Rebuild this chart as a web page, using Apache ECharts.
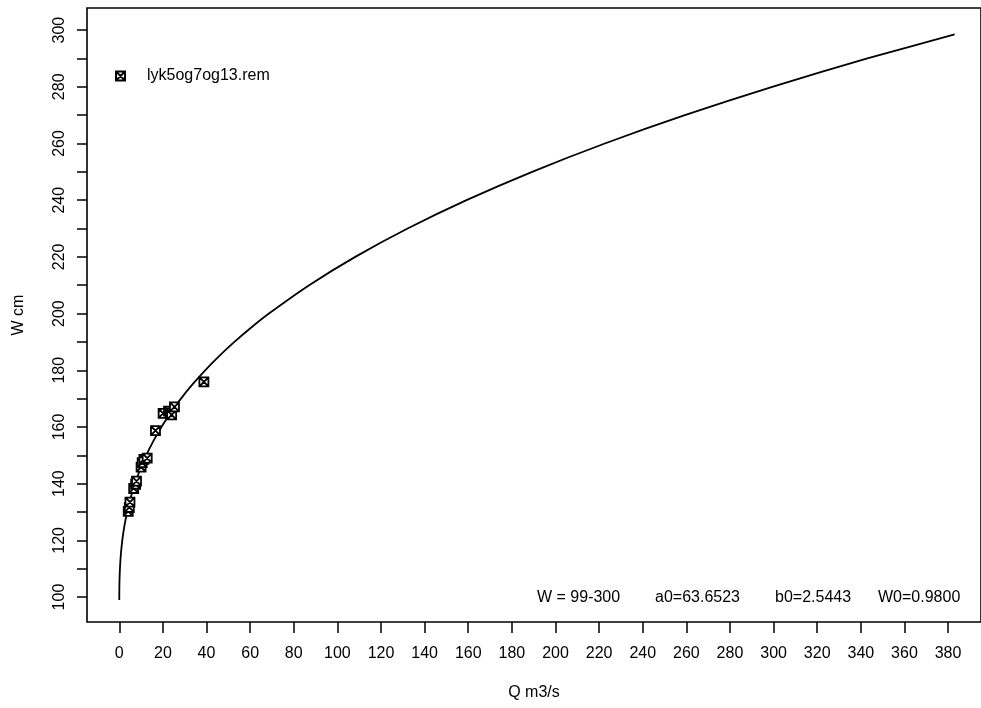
<!DOCTYPE html>
<html>
<head>
<meta charset="utf-8">
<script src="https://cdn.jsdelivr.net/npm/echarts@6/dist/echarts.min.js"></script>
<style>
html,body{margin:0;padding:0;background:#fff;}
#chart{width:981px;height:708px;}
</style>
</head>
<body>
<div id="chart"></div>
<script>
// Observed gauging points (Q m3/s, W cm)
const obsQ = [4.1, 4.6, 4.9, 6.6, 7.5, 7.9, 10.0, 10.5, 11.3, 12.8, 16.6, 20.1, 22.6, 23.4, 24.0, 25.3, 38.8];
const obsW = [130.2, 131.6, 133.5, 138.3, 139.8, 140.9, 145.8, 147.4, 148.6, 149.0, 158.7, 164.8, 165.6, 165.0, 164.3, 167.1, 175.9];

// Rating curve (Q m3/s, W cm)
const curveQ = [0, 0.003, 0.018, 0.075, 0.3, 0.72, 1.38, 2.33, 3.6, 5.2, 7.18, 9.55, 12.36, 15.61, 19.33, 23.55, 28.28, 33.56, 39.37, 45.78, 52.78, 60.38, 68.61, 87.05, 108.2, 132.2, 159.2, 189.3, 222.6, 259.3, 299.4, 343.0, 383.0];
const curveW = [99, 100, 102, 105, 110, 115, 120, 125, 130, 135, 140, 145, 150, 155, 160, 165, 170, 175, 180, 185, 190, 195, 200, 210, 220, 230, 240, 250, 260, 270, 280, 290, 298.5];

// Tick values and labels
const xTicks = [0, 20, 40, 60, 80, 100, 120, 140, 160, 180, 200, 220, 240, 260, 280, 300, 320, 340, 360, 380];
const yTicks = [100, 110, 120, 130, 140, 150, 160, 170, 180, 190, 200, 210, 220, 230, 240, 250, 260, 270, 280, 290, 300];
const yLabels = [100, 120, 140, 160, 180, 200, 220, 240, 260, 280, 300];

const seriesName = 'lyk5og7og13.rem';
const notes = ['W = 99-300', 'a0=63.6523', 'b0=2.5443', 'W0=0.9800'];
const xName = 'Q m3/s';
const yName = 'W cm';

const FONT = 'Liberation Sans, Arial, Helvetica, sans-serif';
const markerPath = 'path://M0,0L10,0L10,10L0,10Z M0,0L10,10 M10,0L0,10';

const chart = echarts.init(document.getElementById('chart'), null, {renderer: 'canvas'});

const noteLeft = [537, 655, 775, 878];

chart.setOption({
  backgroundColor: '#fff',
  animation: false,
  grid: {
    left: 87, top: 8, right: -3, bottom: 86,
    show: true, borderColor: '#000', borderWidth: 1.6, backgroundColor: 'transparent'
  },
  legend: {
    left: 110, top: 63,
    itemWidth: 9, itemHeight: 9,
    data: [seriesName],
    textStyle: {fontFamily: FONT, fontSize: 16, color: '#000', padding: [0, 0, 0, 17]}
  },
  xAxis: {
    type: 'value',
    min: -14.8, max: 395.1,
    name: xName,
    nameLocation: 'middle',
    nameGap: 63,
    nameTextStyle: {fontFamily: FONT, fontSize: 16, color: '#000'},
    splitLine: {show: false},
    axisLine: {show: false, onZero: false},
    axisTick: {show: true, customValues: xTicks, length: 11, lineStyle: {color: '#000', width: 1.5}},
    axisLabel: {customValues: xTicks, margin: 24, fontFamily: FONT, fontSize: 16, color: '#000'}
  },
  yAxis: {
    type: 'value',
    min: 91.2, max: 307.8,
    name: yName,
    nameLocation: 'middle',
    nameGap: 60,
    nameTextStyle: {fontFamily: FONT, fontSize: 16, color: '#000'},
    splitLine: {show: false},
    axisLine: {show: false, onZero: false},
    axisTick: {show: true, customValues: yTicks, length: 10, lineStyle: {color: '#000', width: 1.5}},
    axisLabel: {customValues: yLabels, rotate: 90, margin: 19, fontFamily: FONT, fontSize: 16, color: '#000'}
  },
  graphic: notes.map((t, i) => ({
    type: 'text',
    left: noteLeft[i],
    top: 590,
    style: {text: t, font: '16px ' + FONT, fill: '#000'}
  })),
  series: [
    {
      type: 'line',
      name: 'curve',
      data: curveQ.map((q, i) => [q, curveW[i]]),
      showSymbol: false,
      smooth: 0.25,
      lineStyle: {color: '#000', width: 1.8},
      z: 2
    },
    {
      type: 'scatter',
      name: seriesName,
      data: obsQ.map((q, i) => [q, obsW[i]]),
      symbol: markerPath,
      symbolSize: 9,
      itemStyle: {color: '#fff', borderColor: '#000', borderWidth: 1.8, opacity: 1},
      z: 3
    }
  ]
});
</script>
</body>
</html>
